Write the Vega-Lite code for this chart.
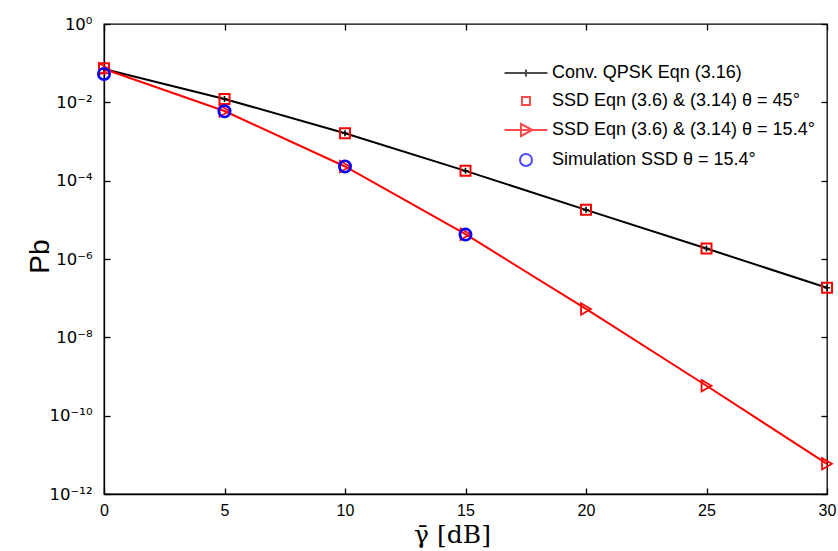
{
  "$schema": "https://vega.github.io/schema/vega-lite/v6.json",
  "autosize": "none",
  "padding": {"left": 104, "top": 24, "right": 11, "bottom": 57},
  "width": 723,
  "height": 470,
  "background": "white",
  "config": {
    "view": {"stroke": "black", "strokeWidth": 1.3},
    "font": "Liberation Sans"
  },
  "data": {
    "values": [
      {"snr": 0, "pb": 0.071, "series": "Conv. QPSK Eqn (3.16)"},
      {"snr": 5, "pb": 0.0122, "series": "Conv. QPSK Eqn (3.16)"},
      {"snr": 10, "pb": 0.00163, "series": "Conv. QPSK Eqn (3.16)"},
      {"snr": 15, "pb": 0.000178, "series": "Conv. QPSK Eqn (3.16)"},
      {"snr": 20, "pb": 0.000018, "series": "Conv. QPSK Eqn (3.16)"},
      {"snr": 25, "pb": 0.00000185, "series": "Conv. QPSK Eqn (3.16)"},
      {"snr": 30, "pb": 0.000000184, "series": "Conv. QPSK Eqn (3.16)"},
      {"snr": 0, "pb": 0.074, "series": "SSD Eqn (3.6) & (3.14) θ = 45°"},
      {"snr": 5, "pb": 0.0122, "series": "SSD Eqn (3.6) & (3.14) θ = 45°"},
      {"snr": 10, "pb": 0.00163, "series": "SSD Eqn (3.6) & (3.14) θ = 45°"},
      {"snr": 15, "pb": 0.000178, "series": "SSD Eqn (3.6) & (3.14) θ = 45°"},
      {"snr": 20, "pb": 0.000018, "series": "SSD Eqn (3.6) & (3.14) θ = 45°"},
      {"snr": 25, "pb": 0.00000185, "series": "SSD Eqn (3.6) & (3.14) θ = 45°"},
      {"snr": 30, "pb": 0.000000184, "series": "SSD Eqn (3.6) & (3.14) θ = 45°"},
      {"snr": 0, "pb": 0.071, "series": "SSD Eqn (3.6) & (3.14) θ = 15.4°"},
      {"snr": 5, "pb": 0.006, "series": "SSD Eqn (3.6) & (3.14) θ = 15.4°"},
      {"snr": 10, "pb": 0.00023, "series": "SSD Eqn (3.6) & (3.14) θ = 15.4°"},
      {"snr": 15, "pb": 0.0000043, "series": "SSD Eqn (3.6) & (3.14) θ = 15.4°"},
      {"snr": 20, "pb": 0.000000053, "series": "SSD Eqn (3.6) & (3.14) θ = 15.4°"},
      {"snr": 25, "pb": 5.8e-10, "series": "SSD Eqn (3.6) & (3.14) θ = 15.4°"},
      {"snr": 30, "pb": 5.9e-12, "series": "SSD Eqn (3.6) & (3.14) θ = 15.4°"},
      {"snr": 0, "pb": 0.053, "series": "Simulation SSD θ = 15.4°"},
      {"snr": 5, "pb": 0.0059, "series": "Simulation SSD θ = 15.4°"},
      {"snr": 10, "pb": 0.00023, "series": "Simulation SSD θ = 15.4°"},
      {"snr": 15, "pb": 0.0000042, "series": "Simulation SSD θ = 15.4°"}
    ]
  },
  "resolve": {"axis": {"x": "independent", "y": "independent"}},
  "layer": [
    {
      "transform": [{"filter": {"field": "series", "equal": "Conv. QPSK Eqn (3.16)"}}],
      "mark": {"type": "line", "color": "black", "strokeWidth": 2},
      "encoding": {
        "x": {"field": "snr", "type": "quantitative", "scale": {"domain": [0, 30], "nice": false, "zero": false},
          "axis": {"orient": "bottom", "values": [0, 5, 10, 15, 20, 25, 30], "title": "γ̄ [dB]", "titleFont": "DejaVu Serif", "titleFontSize": 25, "titleFontWeight": "normal", "titleColor": "black", "titleBaseline": "middle", "titleX": 348, "titleY": 40, "labelFont": "Liberation Sans", "labelFontSize": 16, "labelColor": "black", "labelPadding": 14, "labelFlush": false, "tickSize": -6, "tickColor": "black", "tickWidth": 1.3, "domainColor": "black", "domainWidth": 1.3, "grid": false}},
        "y": {"field": "pb", "type": "quantitative", "scale": {"type": "log", "domain": [1e-12, 1], "nice": false},
          "axis": {"orient": "left", "values": [1, 0.01, 0.0001, 0.000001, 0.00000001, 1e-10, 1e-12], "labelExpr": "datum.value >= 0.5 ? '10⁰' : '10⁻' + replace(replace(replace(replace(replace(replace(toString(round(-log(datum.value)/LN10)), '0', '⁰'), '1', '¹'), '2', '²'), '4', '⁴'), '6', '⁶'), '8', '⁸')", "title": "Pb", "titleFont": "Liberation Sans", "titleFontSize": 28, "titleFontWeight": "normal", "titleColor": "black", "titleBaseline": "middle", "titleX": -64, "titleY": 232, "labelFont": "DejaVu Sans", "labelFontSize": 16.5, "labelColor": "black", "labelPadding": 18, "labelFlush": false, "tickSize": -6, "tickColor": "black", "tickWidth": 1.3, "domainColor": "black", "domainWidth": 1.3, "grid": false}}
      }
    },
    {
      "transform": [{"filter": {"field": "series", "equal": "SSD Eqn (3.6) & (3.14) θ = 15.4°"}}],
      "mark": {"type": "line", "color": "red", "strokeWidth": 2},
      "encoding": {
        "x": {"field": "snr", "type": "quantitative", "axis": null},
        "y": {"field": "pb", "type": "quantitative", "axis": null}
      }
    },
    {
      "transform": [{"filter": {"field": "series", "equal": "SSD Eqn (3.6) & (3.14) θ = 45°"}}],
      "mark": {"type": "point", "shape": "square", "size": 100, "filled": false, "stroke": "red", "strokeWidth": 2, "opacity": 1},
      "encoding": {
        "x": {"field": "snr", "type": "quantitative", "axis": null},
        "y": {"field": "pb", "type": "quantitative", "axis": null}
      }
    },
    {
      "transform": [{"filter": {"field": "series", "equal": "Conv. QPSK Eqn (3.16)"}}],
      "mark": {"type": "point", "shape": "M-1,0H1M0,-1V1", "size": 36, "filled": false, "stroke": "black", "strokeWidth": 1.6, "opacity": 1},
      "encoding": {
        "x": {"field": "snr", "type": "quantitative", "axis": null},
        "y": {"field": "pb", "type": "quantitative", "axis": null}
      }
    },
    {
      "transform": [{"filter": {"field": "series", "equal": "SSD Eqn (3.6) & (3.14) θ = 15.4°"}}],
      "mark": {"type": "point", "shape": "triangle-right", "size": 130, "filled": false, "stroke": "red", "strokeWidth": 1.8, "opacity": 1},
      "encoding": {
        "x": {"field": "snr", "type": "quantitative", "axis": null},
        "y": {"field": "pb", "type": "quantitative", "axis": null}
      }
    },
    {
      "transform": [{"filter": {"field": "series", "equal": "Simulation SSD θ = 15.4°"}}],
      "mark": {"type": "point", "shape": "circle", "size": 130, "filled": false, "stroke": "blue", "strokeWidth": 2.6, "opacity": 1},
      "encoding": {
        "x": {"field": "snr", "type": "quantitative", "axis": null},
        "y": {"field": "pb", "type": "quantitative", "axis": null}
      }
    },
    {
      "transform": [{"filter": "datum.snr < -100"}],
      "mark": {"type": "point", "filled": false, "strokeWidth": 2},
      "encoding": {
        "x": {"field": "snr", "type": "quantitative",
          "axis": {"orient": "top", "values": [0, 5, 10, 15, 20, 25, 30], "labels": false, "title": null, "tickSize": -6, "tickColor": "black", "tickWidth": 1.3, "domain": false, "grid": false}},
        "y": {"field": "pb", "type": "quantitative",
          "axis": {"orient": "right", "values": [1, 0.01, 0.0001, 0.000001, 0.00000001, 1e-10, 1e-12], "labels": false, "title": null, "tickSize": -6, "tickColor": "black", "tickWidth": 1.3, "domain": false, "grid": false}},
        "color": {"field": "series", "type": "nominal",
          "scale": {"domain": ["Conv. QPSK Eqn (3.16)", "SSD Eqn (3.6) & (3.14) θ = 45°", "SSD Eqn (3.6) & (3.14) θ = 15.4°", "Simulation SSD θ = 15.4°"], "range": ["black", "red", "red", "blue"]},
          "legend": {"orient": "none", "legendX": 413, "legendY": 40, "title": null, "padding": 0, "symbolSize": 100, "symbolStrokeWidth": 2, "labelFont": "Liberation Sans", "labelFontSize": 18, "labelColor": "black", "labelLimit": 500, "labelOffset": 17, "rowPadding": 10}},
        "shape": {"field": "series", "type": "nominal",
          "scale": {"domain": ["Conv. QPSK Eqn (3.16)", "SSD Eqn (3.6) & (3.14) θ = 45°", "SSD Eqn (3.6) & (3.14) θ = 15.4°", "Simulation SSD θ = 15.4°"], "range": ["M-4.3,0H4.3M0,-0.7V0.7", "M-0.8,-0.8H0.8V0.8H-0.8Z", "M-4.3,0H4.3M-1,-1.2L1.3,0L-1,1.2Z", "M1.2,0A1.2,1.2,0,1,1,-1.2,0A1.2,1.2,0,1,1,1.2,0Z"]},
          "legend": {"orient": "none", "legendX": 413, "legendY": 40, "title": null, "padding": 0, "symbolSize": 100, "symbolStrokeWidth": 2, "labelFont": "Liberation Sans", "labelFontSize": 18, "labelColor": "black", "labelLimit": 500, "labelOffset": 17, "rowPadding": 10}}
      }
    }
  ]
}
